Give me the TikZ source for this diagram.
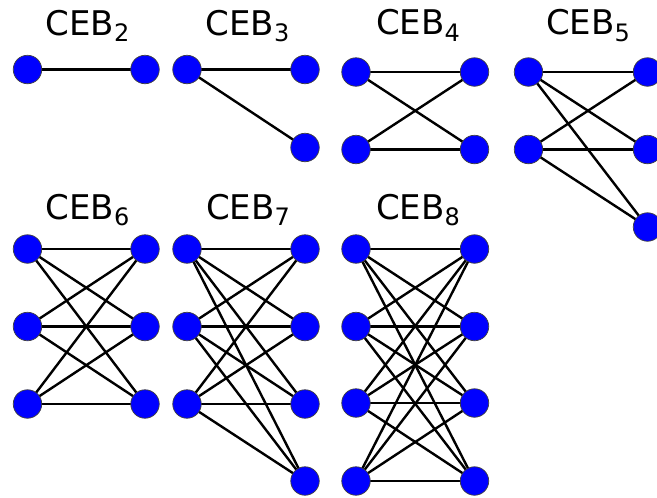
\documentclass[tikz,border=0pt]{standalone}
\usepackage{fontspec}
\setmainfont{DejaVu Sans}
\usetikzlibrary{backgrounds}
\newcommand{\cebtitle}[1]{{\fontsize{34}{34}\selectfont CEB\raisebox{-6.7pt}{\fontsize{24}{24}\selectfont #1}}}
\begin{document}
\begin{tikzpicture}[x=1pt,y=-1pt,
  v/.style={circle, fill=blue, draw=black!75, line width=0.7pt, minimum size=28.5pt, inner sep=0pt},
  e/.style={line width=2.4pt, black},
  ttl/.style={anchor=base, inner sep=0pt}]
\useasboundingbox (0,0) rectangle (657,498);
% titles
\node[ttl] (t2) at (87.5,35) {\cebtitle{2}};
\node[ttl] (t3) at (247.5,35) {\cebtitle{3}};
\node[ttl] (t4) at (418,34.5) {\cebtitle{4}};
\node[ttl] (t5) at (588,34.5) {\cebtitle{5}};
\node[ttl] (t6) at (87.5,219) {\cebtitle{6}};
\node[ttl] (t7) at (248,219) {\cebtitle{7}};
\node[ttl] (t8) at (418,219) {\cebtitle{8}};
% CEB2
\node[v] (g2l1) at (27.5,69.5) {};
\node[v] (g2r1) at (145,69.5) {};
% CEB3
\node[v] (g3l1) at (187,69.5) {};
\node[v] (g3r1) at (305,69.5) {};
\node[v] (g3r2) at (305,147.5) {};
% CEB4
\foreach \i/\y in {1/72,2/149.5} {
  \node[v] (g4l\i) at (356,\y) {};
  \node[v] (g4r\i) at (474.5,\y) {};
}
% CEB5
\foreach \i/\y in {1/72,2/149.5} { \node[v] (g5l\i) at (528.5,\y) {}; }
\foreach \i/\y in {1/72,2/149.5,3/227} { \node[v] (g5r\i) at (647.5,\y) {}; }
% CEB6
\foreach \i/\y in {1/249,2/326.5,3/404} {
  \node[v] (g6l\i) at (27.5,\y) {};
  \node[v] (g6r\i) at (145,\y) {};
}
% CEB7
\foreach \i/\y in {1/249,2/326.5,3/404} { \node[v] (g7l\i) at (187,\y) {}; }
\foreach \i/\y in {1/249,2/326.5,3/404,4/481} { \node[v] (g7r\i) at (305,\y) {}; }
% CEB8
\foreach \i/\y in {1/249,2/326.5,3/403,4/481} {
  \node[v] (g8l\i) at (356,\y) {};
  \node[v] (g8r\i) at (474.5,\y) {};
}
% edges
\begin{pgfonlayer}{background}
\draw[e] (g2l1.center) -- (g2r1.center);
\foreach \j in {1,2} { \draw[e] (g3l1.center) -- (g3r\j.center); }
\foreach \i in {1,2} { \foreach \j in {1,2} { \draw[e] (g4l\i.center) -- (g4r\j.center); } }
\foreach \i in {1,2} { \foreach \j in {1,2,3} { \draw[e] (g5l\i.center) -- (g5r\j.center); } }
\foreach \i in {1,2,3} { \foreach \j in {1,2,3} { \draw[e] (g6l\i.center) -- (g6r\j.center); } }
\foreach \i in {1,2,3} { \foreach \j in {1,2,3,4} { \draw[e] (g7l\i.center) -- (g7r\j.center); } }
\foreach \i in {1,2,3,4} { \foreach \j in {1,2,3,4} { \draw[e] (g8l\i.center) -- (g8r\j.center); } }
\end{pgfonlayer}
\end{tikzpicture}
\end{document}
